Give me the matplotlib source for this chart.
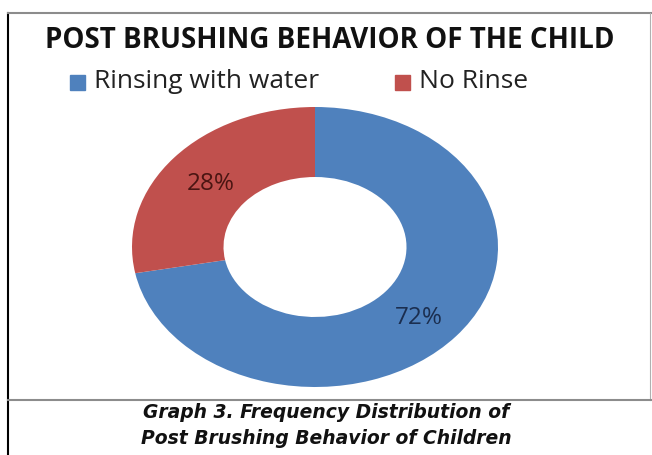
import matplotlib.pyplot as plt
from matplotlib.lines import Line2D
from matplotlib.patches import Rectangle

# post brushing behaviour, share of children (%)
labels = ['Rinsing with water', 'No Rinse']
shares = [72, 28]
colors = ['#4F81BD', '#C0504D']
pct_colors = ['#1B2E4F', '#4A1512']

W, H = 652, 455
fig = plt.figure(figsize=(W / 100, H / 100), dpi=100)

# chart frame and caption rule
fig.add_artist(Line2D([8 / W, 8 / W], [0, 1 - 13 / H], color='black', lw=1.5))
fig.add_artist(Line2D([8 / W, 1], [1 - 13 / H, 1 - 13 / H], color='#8c8c8c', lw=1.5))
fig.add_artist(Line2D([650 / W, 650 / W], [1 - 13 / H, 1 - 400 / H], color='#b0b0b0', lw=0.8))
fig.add_artist(Line2D([8 / W, 1], [1 - 400 / H, 1 - 400 / H], color='#8c8c8c', lw=1.5))

# donut, stretched into an ellipse by the axes box
ax = fig.add_axes([132 / W, 1 - 387 / H, 366 / W, 280 / H])
wedges, texts, autotexts = ax.pie(
    shares, colors=colors, startangle=90, counterclock=False,
    autopct='%d%%', pctdistance=0.72,
    wedgeprops=dict(width=0.5, edgecolor='none'),
    textprops=dict(fontsize=17.5, family='Open Sans'))
# nudge the percent labels a little
for t, c, pos in zip(autotexts, pct_colors, [(0.57, -0.51), (-0.57, 0.45)]):
    t.set_color(c)
    t.set_position(pos)
ax.set_aspect('auto')
ax.set_xlim(-1, 1)
ax.set_ylim(-1, 1)
ax.axis('off')

fig.text(330 / W, 1 - 40 / H, 'POST BRUSHING BEHAVIOR OF THE CHILD',
         ha='center', va='center', fontsize=20, fontweight='bold',
         family='Open Sans', color='#111111')

# legend
leg_y = 1 - 82 / H
for x0, name, col in [(70, labels[0], colors[0]), (395, labels[1], colors[1])]:
    fig.add_artist(Rectangle((x0 / W, leg_y - 7.5 / H), 15 / W, 15 / H,
                             color=col, transform=fig.transFigure))
    fig.text((x0 + 24) / W, leg_y, name, ha='left', va='center',
             fontsize=19, family='Open Sans', color='#222222')

fig.text(326 / W, 1 - 413 / H, 'Graph 3. Frequency Distribution of',
         ha='center', va='center', fontsize=13.5, fontweight='bold',
         style='italic', family='DejaVu Sans', color='#111111')
fig.text(326 / W, 1 - 438 / H, 'Post Brushing Behavior of Children',
         ha='center', va='center', fontsize=13.5, fontweight='bold',
         style='italic', family='DejaVu Sans', color='#111111')

fig.savefig('out.png', dpi=100)
